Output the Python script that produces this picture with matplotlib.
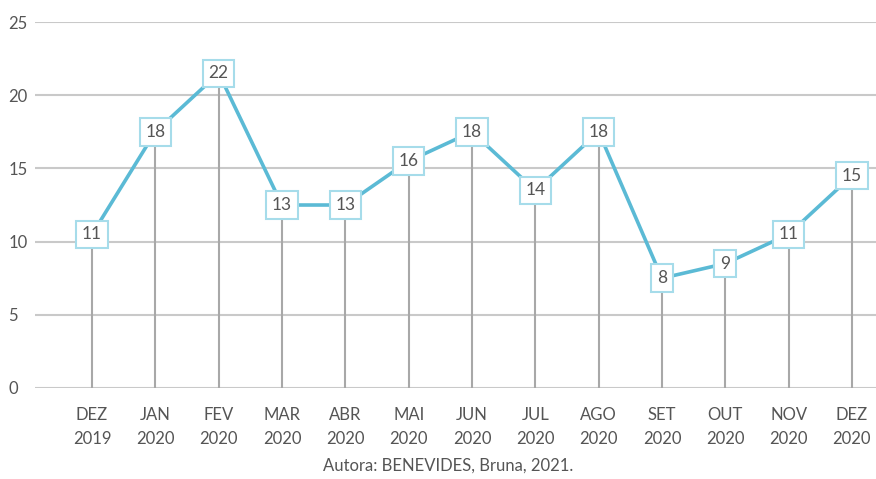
import matplotlib.pyplot as plt

plt.rcParams['font.family'] = ['Lato', 'DejaVu Sans']

# data
meses = ["DEZ\n2019", "JAN\n2020", "FEV\n2020", "MAR\n2020", "ABR\n2020", "MAI\n2020",
         "JUN\n2020", "JUL\n2020", "AGO\n2020", "SET\n2020", "OUT\n2020", "NOV\n2020", "DEZ\n2020"]
valores = [10.5, 17.5, 21.5, 12.5, 12.5, 15.5, 17.5, 13.5, 17.5, 7.5, 8.5, 10.5, 14.5]
rotulos = ["11", "18", "22", "13", "13", "16", "18", "14", "18", "8", "9", "11", "15"]
yticks = [0, 5, 10, 15, 20, 25]

fig = plt.figure(figsize=(8.76, 4.79), dpi=100)
ax = fig.add_axes([0.04, 0.19, 0.96, 0.764])

x = list(range(len(meses)))

for t in yticks:
    ax.axhline(t, color="#c9c9c9", lw=1.5, zorder=1)

ax.vlines(x, 0, valores, color="#a8a8a8", lw=1.5, zorder=2)
ax.plot(x, valores, color="#5bbad5", lw=2.6, zorder=3)

for xi, v, r in zip(x, valores, rotulos):
    ax.text(xi, v, r, ha="center", va="center", fontsize=12.5, color="#555555", zorder=4,
            bbox=dict(boxstyle="square,pad=0.33", fc="white", ec="#a6dcea", lw=1.5))

ax.set_xlim(-0.9, 12.38)
ax.set_ylim(0, 25)
ax.set_yticks(yticks)
ax.set_xticks(x)
ax.set_xticklabels(meses, fontsize=12, color="#555555", linespacing=1.55)
ax.tick_params(axis="y", labelsize=12, labelcolor="#555555", length=0, pad=4)
ax.tick_params(axis="x", length=0, pad=14)
for lbl in ax.get_yticklabels():
    lbl.set_horizontalalignment("left")
    lbl.set_x(-0.025)
for s in ax.spines.values():
    s.set_visible(False)

fig.text(0.512, 0.027, "Autora: BENEVIDES, Bruna, 2021.", ha="center", va="center",
         fontsize=12, color="#555555")

fig.savefig("out.png", dpi=100)
